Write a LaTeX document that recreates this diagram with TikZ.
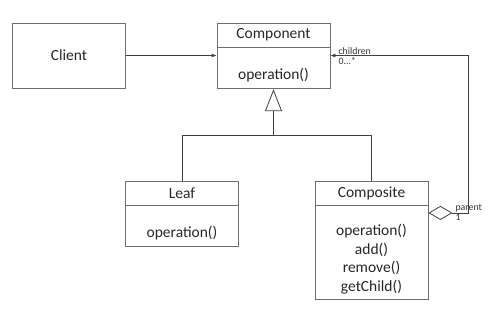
\documentclass[tikz,border=0pt]{standalone}
\usepackage{fontspec}
\setmainfont{Carlito}
\usepackage{xcolor}
\definecolor{umlline}{HTML}{404040}
\definecolor{umlbox}{HTML}{6E6E6E}
\usetikzlibrary{arrows.meta,positioning}
\newcommand{\opsbox}[1]{\raisebox{-7pt}[\height][\depth]{\begin{tabular}{@{}c@{}}#1\end{tabular}}}

\begin{document}
\begin{tikzpicture}[x=1pt,y=1pt,
  cls/.style={rectangle,draw=umlbox,line width=0.8pt,minimum width=113pt,
              minimum height=24pt,inner sep=0pt,text=black!85,
              font=\fontsize{15.5}{18.7}\selectfont},
  clsops/.style={cls,minimum height=#1},
  conn/.style={draw=umlline,line width=0.8pt},
  lab/.style={font=\fontsize{9.8}{11}\selectfont,text=black!80,inner sep=1pt},
  node distance=0pt]
\useasboundingbox (0,0) rectangle (488,-309);
\node[cls,minimum height=65pt] (client) at (69,-55.5) {Client};
\node[cls] (comp) at (273.5,-35) {Component};
\node[clsops=41pt,below=of comp] (compops) {\opsbox{operation()}};
\node[cls] (leaf) at (182,-193) {Leaf};
\node[clsops=41pt,below=of leaf] (leafops) {\opsbox{operation()}};
\node[cls] (composite) at (371.5,-193) {Composite};
\node[clsops=94pt,below=of composite] (compositeops)
  {\opsbox{operation()\\ add()\\ remove()\\ getChild()}};
\coordinate (junc) at ([yshift=-46.5pt]compops.south);
\coordinate (agg) at ([yshift=-7.5pt]compositeops.north east);
\coordinate (kid) at (client -| compops.east);
% client uses component
\draw[conn,-{Latex[length=5pt,width=4pt]}] (client) -- (client -| compops.west);
% generalization
\draw[conn] (leaf.north) |- (junc) -| (composite.north);
\draw[conn,-{Triangle[open,length=22pt,width=17pt]}] (junc) -- (compops.south);
% aggregation of children
\draw[conn,{Diamond[open,length=24pt,width=14pt]}-{Latex[length=5pt,width=4pt]}]
  (agg) -- ++(40,0) |- (kid);
\node[lab,anchor=south west] (chl) at ([xshift=7pt]kid) {children};
\node[lab,anchor=north west] (mult) at ([xshift=7pt,yshift=-1pt]kid) {0...*};
\node[lab,anchor=south west] (parl) at ([xshift=26pt]agg) {parent};
\node[lab,anchor=north west] (one) at ([xshift=26pt,yshift=-0.5pt]agg) {1};
\end{tikzpicture}
\end{document}
